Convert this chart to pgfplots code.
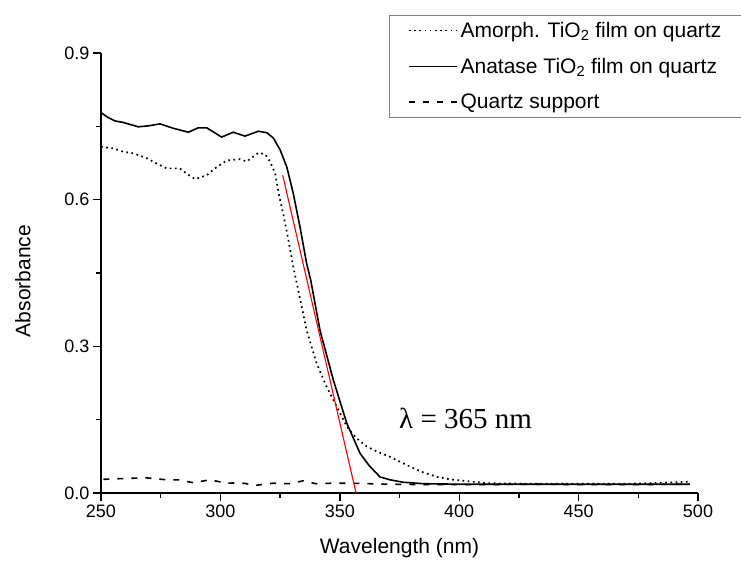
\documentclass[border=0pt]{standalone}
\usepackage{fontspec}
\setmainfont{Liberation Sans}
\newfontfamily\seriffont{Liberation Serif}
\usepackage{pgfplots}
\pgfplotsset{compat=1.18}
\begin{document}
\begin{tikzpicture}
\begin{axis}[
  scale only axis, width=597pt, height=440pt,
  xmin=250, xmax=500, ymin=0, ymax=0.9,
  axis lines=left, axis line style={-, line width=1.6pt},
  tick align=outside,
  xtick={250,300,...,500}, ytick={0,0.3,0.6,0.9},
  minor x tick num=1, minor y tick num=1,
  major tick length=8pt, minor tick length=5pt,
  every tick/.style={line width=1.4pt, black},
  /pgf/number format/assume math mode=true,
  yticklabel style={/pgf/number format/fixed, /pgf/number format/fixed zerofill, /pgf/number format/precision=1},
  ticklabel style={font=\fontsize{18}{21}\selectfont},
  xlabel={Wavelength (nm)}, ylabel={Absorbance},
  label style={font=\fontsize{21}{24}\selectfont},
  x label style={at={(axis description cs:0.5,-0.1364)}, anchor=base},
  y label style={at={(axis description cs:-0.1307,0.4818)}, anchor=center},
  legend style={at={(axis description cs:0.4824,1.0864)}, anchor=north west,
    draw=gray, line width=0.8pt, font=\fontsize{21}{24}\selectfont,
    inner xsep=19pt, inner ysep=5pt, row sep=15pt,
    nodes={inner xsep=3pt, inner ysep=2pt}},
  legend cell align=left,
  legend image code/.code={\draw[#1, line width=1.2pt] (0pt,0pt) -- (48pt,0pt);},
]
\coordinate (O) at (rel axis cs:0,0);
% Amorphous (dotted)
\addplot[black, line width=1.7pt, dash pattern=on 1.7pt off 3.5pt] coordinates {
(250,0.708) (255.2,0.705) (259.3,0.698) (263.5,0.695) (269.1,0.685) (273.3,0.674)
(277.4,0.664) (283,0.664) (285.9,0.653) (289.4,0.642) (294.3,0.650) (297.7,0.664)
(302.6,0.680) (308.2,0.683) (311,0.678) (315.9,0.696) (318.7,0.693) (320.8,0.678)
(322.9,0.654) (324.7,0.606) (326.4,0.569) (328.5,0.517) (330.5,0.463) (332.6,0.415)
(336.1,0.333) (340.3,0.265) (344.5,0.217) (348.7,0.177) (352.9,0.136) (357,0.112)
(361.3,0.095) (366,0.084) (371,0.074) (379.4,0.054) (385,0.042) (390.6,0.033)
(396,0.028) (401.8,0.025) (411.5,0.020) (430,0.019) (450,0.019) (470,0.019)
(480,0.020) (490,0.022) (496.6,0.023)};
\addlegendentry{Amorph. TiO\textsubscript{2} film on quartz}
% Anatase (solid)
\addplot[black, line width=1.6pt] coordinates {
(250,0.778) (253,0.768) (255.9,0.761) (259.3,0.758) (265.6,0.749) (269.8,0.751)
(274.7,0.755) (280.3,0.746) (286.6,0.738) (290.7,0.747) (294.3,0.747) (300.5,0.728)
(305.4,0.738) (310.3,0.730) (315.9,0.740) (319.4,0.737) (322.2,0.726) (325,0.702)
(327.8,0.667) (330.5,0.613) (333.3,0.545) (336.1,0.470) (337.8,0.436) (341.7,0.333)
(347.3,0.231) (352.9,0.143) (358.5,0.081) (362.3,0.056) (366.8,0.033) (371,0.027)
(376.5,0.022) (385,0.019) (400,0.018) (420,0.018) (440,0.018) (460,0.018)
(480,0.018) (496.6,0.018)};
\addlegendentry{Anatase TiO\textsubscript{2} film on quartz}
% Quartz (dashed)
\addplot[black, line width=1.6pt, dash pattern=on 6pt off 8pt] coordinates {
(251,0.028) (256,0.029) (262,0.030) (269,0.031) (277.5,0.027) (282.4,0.027)
(288.7,0.021) (295.6,0.027) (302.6,0.020) (308,0.021) (315.2,0.016) (322,0.020)
(329,0.019) (334.7,0.025) (340,0.019) (347,0.020) (355,0.020) (370,0.018)
(390,0.017) (410,0.017) (430,0.018) (450,0.017) (470,0.017) (496.6,0.018)};
\addlegendentry{Quartz support}
% red tangent line
\addplot[red, line width=1.1pt, forget plot] coordinates {(326.1,0.650) (356.8,0.0)};
\node[anchor=base west, inner sep=0pt, font=\seriffont\fontsize{29}{32}\selectfont]
  at (axis cs:374.8,0.131) {λ = 365 nm};
\end{axis}
\pgfresetboundingbox
\path[use as bounding box] ([shift={(-101pt,-67pt)}]O) rectangle ([shift={(640pt,493pt)}]O);
\end{tikzpicture}
\end{document}
